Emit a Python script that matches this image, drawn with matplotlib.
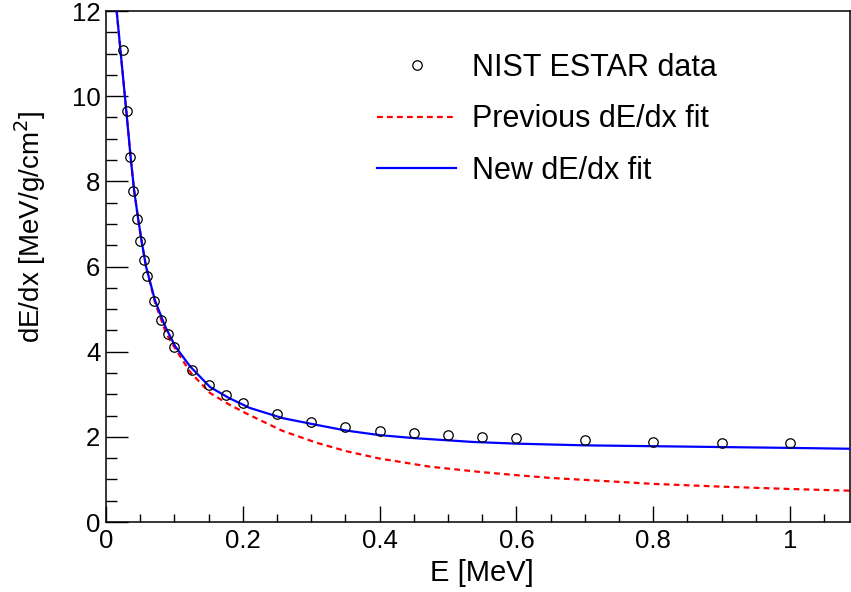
import matplotlib
matplotlib.use("Agg")
import matplotlib.pyplot as plt
from matplotlib.lines import Line2D
from matplotlib.ticker import MultipleLocator

plt.rcParams['font.family'] = ['Liberation Sans', 'DejaVu Sans']

# NIST ESTAR data points
E_data = [0.025, 0.03, 0.035, 0.04, 0.045, 0.05, 0.055, 0.06, 0.07, 0.08, 0.09,
          0.1, 0.125, 0.15, 0.175, 0.2, 0.25, 0.3, 0.35, 0.4, 0.45, 0.5, 0.55,
          0.6, 0.7, 0.8, 0.9, 1.0]
dEdx_data = [11.08, 9.65, 8.57, 7.77, 7.12, 6.60, 6.15, 5.78, 5.20, 4.74, 4.41,
             4.12, 3.57, 3.22, 2.98, 2.80, 2.53, 2.36, 2.24, 2.14, 2.09, 2.04, 2.00,
             1.97, 1.92, 1.886, 1.86, 1.85]

# New dE/dx fit
E_new = [0.0156, 0.021, 0.0297, 0.036, 0.041, 0.047, 0.052, 0.0585, 0.0717, 0.0863,
         0.101, 0.1226, 0.152, 0.18, 0.21, 0.258, 0.308, 0.35, 0.40, 0.45, 0.536,
         0.6, 0.7, 0.8, 0.9, 1.0, 1.088]
dEdx_new = [12.0, 11.1, 9.65, 8.57, 7.8, 7.12, 6.6, 6.0, 5.2, 4.6,
            4.13, 3.66, 3.17, 2.91, 2.68, 2.44, 2.28, 2.15, 2.04, 1.97, 1.88,
            1.84, 1.80, 1.78, 1.76, 1.74, 1.72]

# Previous dE/dx fit
E_prev = [0.0156, 0.021, 0.0297, 0.036, 0.041, 0.047, 0.052, 0.0585, 0.0717, 0.0863,
          0.0934, 0.1226, 0.152, 0.181, 0.21, 0.258, 0.308, 0.352, 0.40, 0.473,
          0.55, 0.604, 0.65, 0.736, 0.8, 0.9, 1.0, 1.088]
dEdx_prev = [12.0, 11.1, 9.65, 8.57, 7.8, 7.12, 6.6, 6.0, 5.15, 4.5,
             4.27, 3.53, 3.03, 2.75, 2.51, 2.14, 1.86, 1.66, 1.49, 1.30,
             1.17, 1.095, 1.035, 0.955, 0.895, 0.83, 0.775, 0.735]

W, H = 851, 592
fig = plt.figure(figsize=(W / 100, H / 100), dpi=100)
L, R, T, B = 106, 850, 11, 522
ax = fig.add_axes([L / W, 1 - B / H, (R - L) / W, (B - T) / H])

DASH = (0, (2.6, 1.9))
ax.plot(E_prev, dEdx_prev, color=(1, 0, 0), lw=1.6, ls=DASH,
        label='Previous dE/dx fit', zorder=2)
ax.plot(E_new, dEdx_new, color=(0, 0, 1), lw=1.6, ls='-',
        label='New dE/dx fit', zorder=3)
ax.plot(E_data, dEdx_data, ls='none', marker='o', ms=6.8, mfc='none', mec='black',
        mew=0.9, label='NIST ESTAR data', zorder=4)

ax.set_xlim(0, 1.0876)
ax.set_ylim(0, 12)

ax.xaxis.set_major_locator(MultipleLocator(0.2))
ax.xaxis.set_minor_locator(MultipleLocator(0.05))
ax.yaxis.set_major_locator(MultipleLocator(2))
ax.yaxis.set_minor_locator(MultipleLocator(0.5))
ax.xaxis.set_major_formatter(plt.FuncFormatter(lambda v, p: f"{v:g}"))
ax.yaxis.set_major_formatter(plt.FuncFormatter(lambda v, p: f"{v:g}"))

ax.tick_params(axis='both', which='both', direction='in', top=False, right=False,
               labelsize=18.5, width=1.0, color='black')
ax.tick_params(axis='y', which='major', length=16, pad=4)
ax.tick_params(axis='y', which='minor', length=8)
ax.tick_params(axis='x', which='major', length=11.5, pad=5)
ax.tick_params(axis='x', which='minor', length=5.8)
for s in ax.spines.values():
    s.set_linewidth(1.1)

fig.text(482 / W, 1 - 573 / H, 'E [MeV]', fontsize=21, ha='center', va='center')
fig.text(30 / W, 1 - 227 / H, 'dE/dx [MeV/g/cm$^{2}$]', fontsize=20, ha='center',
         va='center', rotation=90)

handles = [
    Line2D([], [], ls='none', marker='o', ms=6.8, mfc='none', mec='black', mew=0.9),
    Line2D([], [], color=(1, 0, 0), lw=1.6, ls=DASH),
    Line2D([], [], color=(0, 0, 1), lw=1.6),
]
labels = ['NIST ESTAR data', 'Previous dE/dx fit', 'New dE/dx fit']
leg = ax.legend(handles, labels, loc='upper left',
                bbox_to_anchor=(377 / W, 1 - 53 / H), bbox_transform=fig.transFigure,
                frameon=False, fontsize=22, handlelength=2.6, handletextpad=0.52,
                labelspacing=0.7, borderpad=0, borderaxespad=0)

fig.savefig('out.png', dpi=100)
